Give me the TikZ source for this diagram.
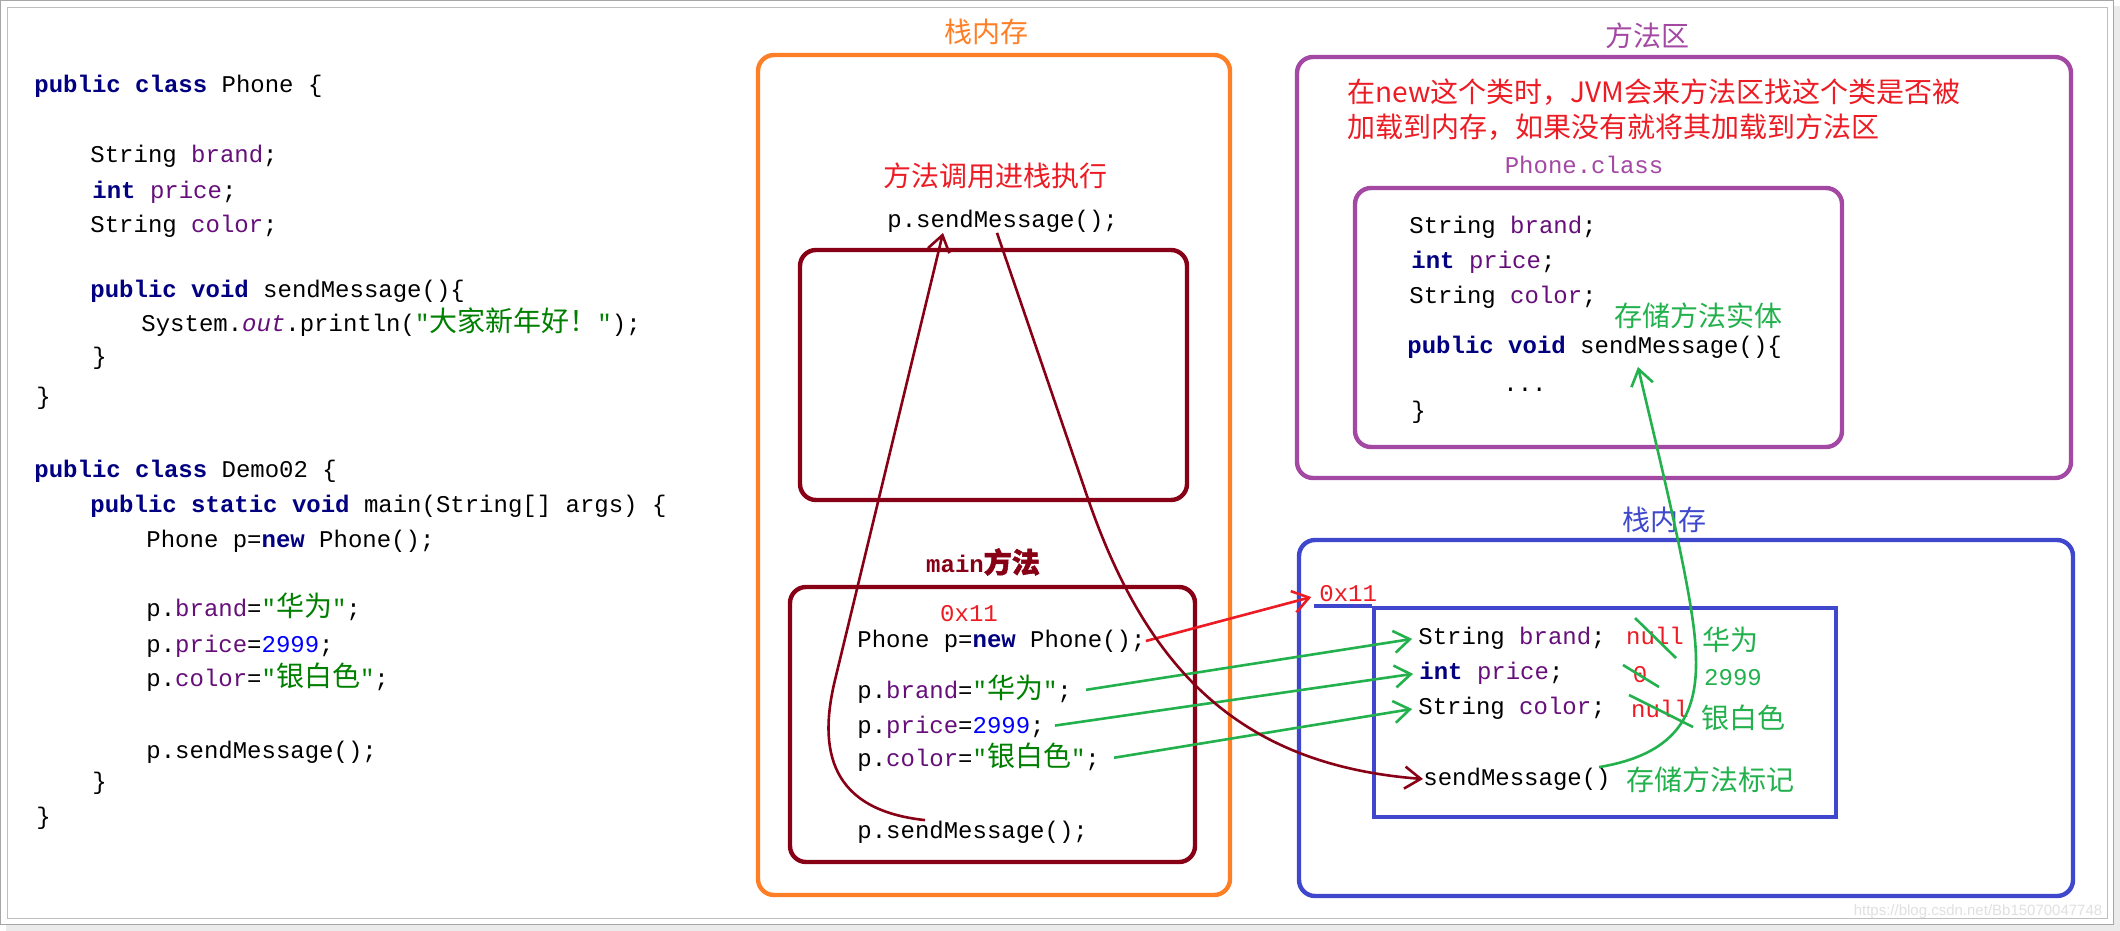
\documentclass[tikz,border=0pt]{standalone}
\usepackage{fontspec}
\setmonofont{Liberation Mono}
\newfontfamily\cjk{Noto Sans CJK SC}
\newfontfamily\cjkbold[FakeBold=2]{Noto Sans CJK SC}
\newfontfamily\markfont{Liberation Sans}
\usetikzlibrary{arrows.meta}

\definecolor{paintorange}{RGB}{255,127,39}
\definecolor{paintdarkred}{RGB}{136,0,21}
\definecolor{paintpurple}{RGB}{163,73,164}
\definecolor{paintblue}{RGB}{63,72,204}
\definecolor{paintred}{RGB}{237,28,36}
\definecolor{paintgreen}{RGB}{34,177,76}
\definecolor{kwblue}{RGB}{0,0,128}
\definecolor{fieldpurple}{RGB}{102,14,122}
\definecolor{strgreen}{RGB}{0,128,0}
\definecolor{numblue}{RGB}{0,0,255}

\newcommand{\zh}[1]{{\cjk\fontsize{14pt}{16pt}\selectfont #1}}
\newcommand{\kwd}[1]{\textcolor{kwblue}{\bfseries #1}}
\newcommand{\fieldname}[1]{\textcolor{fieldpurple}{#1}}
\newcommand{\strlit}[1]{\textcolor{strgreen}{"\zh{#1}"}}
\newcommand{\numlit}[1]{\textcolor{numblue}{#1}}

\tikzset{
  code/.style={anchor=west, inner sep=0pt, text height=9pt, text depth=2.5pt,
    font=\ttfamily\fontsize{12pt}{14pt}\selectfont},
  heading/.style={inner sep=0pt, font=\cjk\fontsize{14pt}{16pt}\selectfont},
  region/.style={draw=#1, line width=2.2pt, rounded corners=8pt, inner sep=0pt},
  arrowline/.style={draw=#1, line width=1.3pt, -{Straight Barb[length=8pt,width=11pt]}},
  markline/.style={draw=paintgreen, line width=1.3pt},
}

\begin{document}
\begin{tikzpicture}[x=0.5pt, y=-0.5pt]
  \useasboundingbox (0,0) rectangle (2120,931);
  % window frame
  \fill[black!8] (6,6) rectangle (2120,931);
  \draw[black!35, fill=white] (0.5,0.5) rectangle (2113,924);
  \draw[black!25] (7,7) rectangle (2107,918);

  % source code on the left
  \node[code] (phone head)  at (34,86)  {\kwd{public} \kwd{class} Phone \{};
  \node[code] (phone brand) at (90,156) {String \fieldname{brand};};
  \node[code] (phone price) at (92,192) {\kwd{int} \fieldname{price};};
  \node[code] (phone color) at (90,226) {String \fieldname{color};};
  \node[code] (phone send)  at (90,291) {\kwd{public} \kwd{void} sendMessage()\{};
  \node[code] (phone print) at (141,325) {System.\textcolor{fieldpurple}{\itshape out}.println(\strlit{大家新年好！});};
  \node[code] (phone close1) at (92,358) {\}};
  \node[code] (phone close2) at (36,398) {\}};
  \node[code] (demo head)   at (34,471) {\kwd{public} \kwd{class} Demo02 \{};
  \node[code] (demo main)   at (90,506) {\kwd{public} \kwd{static} \kwd{void} main(String[] args) \{};
  \node[code] (demo new)    at (146,541) {Phone p=\kwd{new} Phone();};
  \node[code] (demo brand)  at (146,610) {p.\fieldname{brand}=\strlit{华为};};
  \node[code] (demo price)  at (146,646) {p.\fieldname{price}=\numlit{2999};};
  \node[code] (demo color)  at (146,680) {p.\fieldname{color}=\strlit{银白色};};
  \node[code] (demo send)   at (146,752) {p.sendMessage();};
  \node[code] (demo close1) at (92,783) {\}};
  \node[code] (demo close2) at (36,818) {\}};

  % stack memory
  \node[region=paintorange, minimum width=236pt, minimum height=420pt] (stack) at (994,475) {};
  \node[heading, text=paintorange] (stack title) at (986,32) {栈内存};
  \node[heading, text=paintred] (call title) at (995,176) {方法调用进栈执行};
  \node[code] (call top) at (887,221) {p.sendMessage();};
  \node[region=paintdarkred, minimum width=193.5pt, minimum height=125pt] (send frame) at (993.5,375) {};
  \node[heading, text=paintdarkred] (main title) at (983,562) {\ttfamily\bfseries\fontsize{12pt}{14pt}\selectfont main{\cjkbold\fontsize{14pt}{16pt}\selectfont 方法}};
  \node[region=paintdarkred, minimum width=202.5pt, minimum height=137.5pt] (main frame) at (992.5,724.5) {};
  \node[code, anchor=center, text=paintred] (addr main) at (969,615) {0x11};
  \node[code] (main new)   at (857,641) {Phone p=\kwd{new} Phone();};
  \node[code] (main brand) at (857,692) {p.\fieldname{brand}=\strlit{华为};};
  \node[code] (main price) at (857,727) {p.\fieldname{price}=\numlit{2999};};
  \node[code] (main color) at (857,760) {p.\fieldname{color}=\strlit{银白色};};
  \node[code] (main send)  at (857,832) {p.sendMessage();};

  % method area
  \node[region=paintpurple, minimum width=387pt, minimum height=210.5pt] (method area) at (1684,267.5) {};
  \node[heading, text=paintpurple] (method title) at (1647,36) {方法区};
  \node[heading, text=paintred, anchor=west, align=left,
    font=\cjk\fontsize{14pt}{17.5pt}\selectfont] (load note) at (1347,109.5)
    {在new这个类时，JVM会来方法区找这个类是否被\\加载到内存，如果没有就将其加载到方法区};
  \node[code, anchor=center, text=paintpurple] (class title) at (1584,167) {Phone.class};
  \node[region=paintpurple, minimum width=243.5pt, minimum height=129.5pt] (class box) at (1598.5,317.5) {};
  \node[code] (class brand) at (1409,227) {String \fieldname{brand};};
  \node[code] (class price) at (1411,262) {\kwd{int} \fieldname{price};};
  \node[code] (class color) at (1409,297) {String \fieldname{color};};
  \node[code] (class send)  at (1407,347) {\kwd{public} \kwd{void} sendMessage()\{};
  \node[code, anchor=center] (class body) at (1525,385) {...};
  \node[code] (class close) at (1411,412) {\}};
  \node[heading, text=paintgreen] (body note) at (1698,316) {存储方法实体};

  % object memory
  \node[region=paintblue, minimum width=387pt, minimum height=178pt] (heap) at (1686,718) {};
  \node[heading, text=paintblue] (heap title) at (1664,520) {栈内存};
  \node[draw=paintblue, line width=2.2pt, inner sep=0pt, minimum width=231pt, minimum height=104.5pt] (object) at (1605,712.5) {};
  \draw[paintblue, line width=2.2pt] (object.north west) -- ++(-58,0);
  \node[code, text=paintred] (addr heap) at (1319,595) {0x11};
  \node[code] (obj brand) at (1418,638) {String \fieldname{brand};};
  \node[code] (obj price) at (1419,673) {\kwd{int} \fieldname{price};};
  \node[code] (obj color) at (1418,708) {String \fieldname{color};};
  \node[code] (obj send)  at (1423,779) {sendMessage()};
  \node[code, anchor=center, text=paintred] (old brand) at (1655,638) {null};
  \node[code, anchor=center, text=paintred] (old price) at (1640,676) {0};
  \node[code, anchor=center, text=paintred] (old color) at (1660,711) {null};
  \node[heading, text=paintgreen] (new brand) at (1730,640) {华为};
  \node[code, anchor=center, text=paintgreen] (new price) at (1733,679) {2999};
  \node[heading, text=paintgreen] (new color) at (1743,718) {银白色};
  \node[heading, text=paintgreen] (mark note) at (1710,780) {存储方法标记};

  % crossed out default values
  \draw[markline] ([shift={(-20,-20)}]old brand.center) -- ([shift={(21,20)}]old brand.center);
  \draw[markline] ([shift={(-17,-11)}]old price.center) -- ([shift={(19,11)}]old price.center);
  \draw[markline] ([shift={(-31,-16)}]old color.center) -- ([shift={(33,16)}]old color.center);

  % connectors
  \draw[arrowline=paintred, shorten >=4pt] (main new.east) -- (addr heap.west);
  \draw[arrowline=paintgreen, shorten <=7pt, shorten >=3pt] (main brand.east) -- (obj brand.west);
  \draw[arrowline=paintgreen, shorten <=5pt, shorten >=3pt] (main price.east) -- (obj price.west);
  \draw[arrowline=paintgreen, shorten <=7pt, shorten >=3pt] (main color.east) -- (obj color.west);
  \draw[arrowline=paintdarkred] ([xshift=34pt]main send.north west)
    .. controls (830,810) and (818,750) .. (835,680) -- ([xshift=28pt]call top.south west);
  \draw[arrowline=paintdarkred] ([xshift=55pt]call top.south west) -- (1085,490)
    .. controls (1145,670) and (1240,765) .. (obj send.west);
  \draw[arrowline=paintgreen] ([xshift=-6pt]obj send.north east)
    .. controls (1690,752) and (1700,700) .. (1695,640)
    .. controls (1690,580) and (1655,440) .. ([xshift=115.5pt,yshift=-4pt]class send.south west);

  % watermark
  \node[inner sep=0pt, text=black!12, font=\markfont\fontsize{7.5pt}{9pt}\selectfont] (watermark) at (1978,912) {https://blog.csdn.net/Bb15070047748};
\end{tikzpicture}
\end{document}
